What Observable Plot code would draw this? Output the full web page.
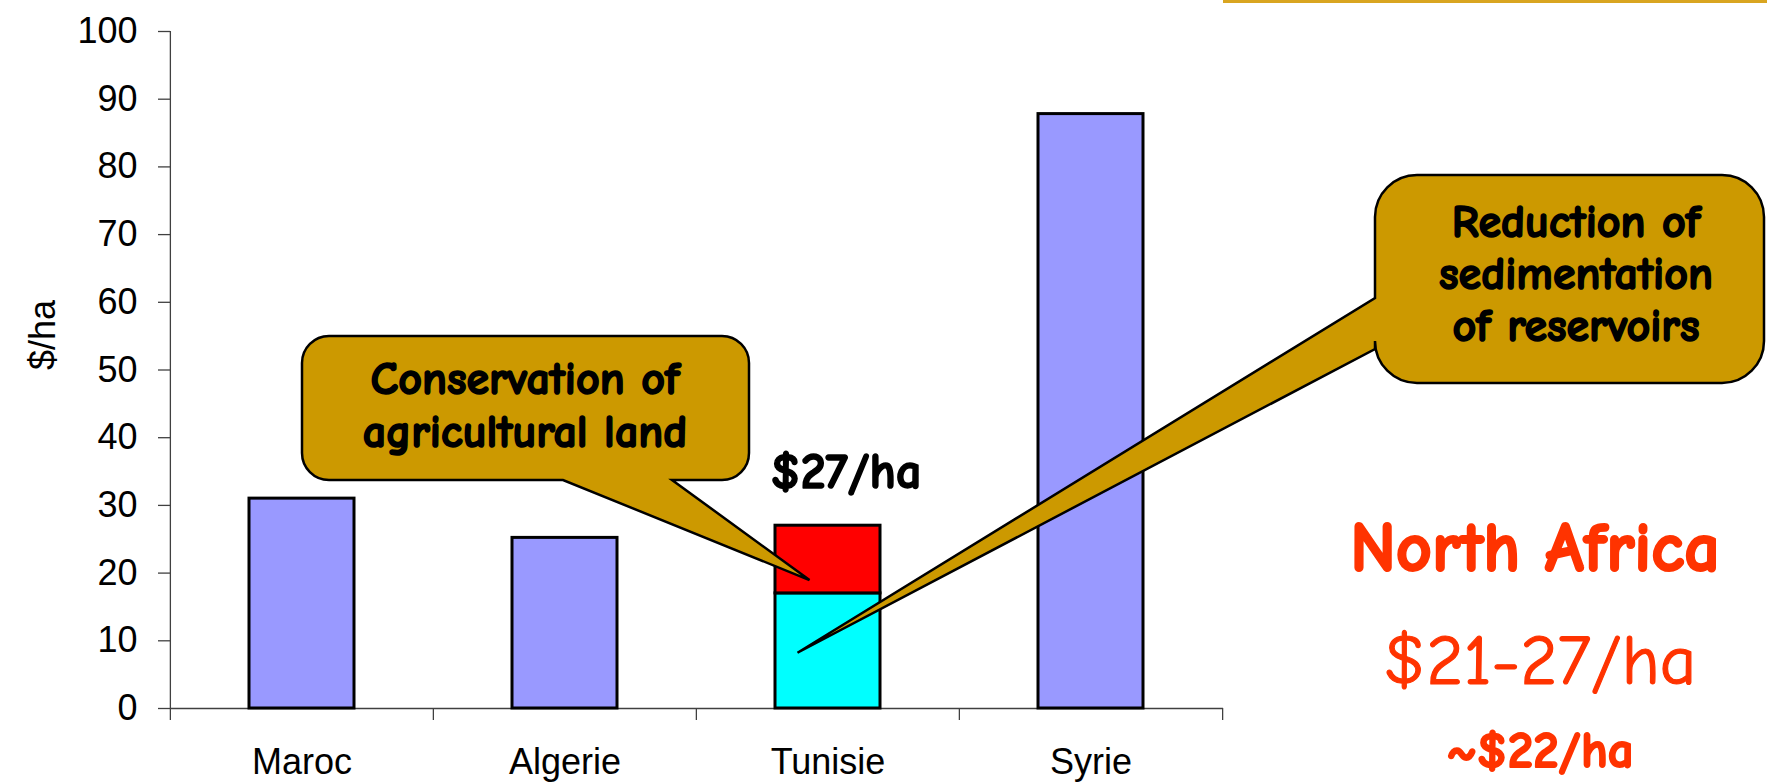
<!DOCTYPE html>
<html>
<head>
<meta charset="utf-8">
<script src="https://cdn.jsdelivr.net/npm/d3@7"></script>
<script src="https://cdn.jsdelivr.net/npm/@observablehq/plot@0.6"></script>
<style>
  html, body { margin: 0; padding: 0; background: #ffffff; }
  svg { display: block; }
</style>
</head>
<body>
<div id="chart"></div>
<script>
// Cost of soil erosion, $/ha
const countries = ["Maroc", "Algerie", "Tunisie", "Syrie"];
const totalValues = [31, 25.2, null, 87.8];          // single-figure estimates
const tunisieParts = ["Reduction of sedimentation of reservoirs", "Conservation of agricultural land"];
const tunisieValues = [17, 10];
const yTicks = [0, 10, 20, 30, 40, 50, 60, 70, 80, 90, 100];
const yLabel = "$/ha";
const callout1Lines = ["Conservation of", "agricultural land"];
const callout2Lines = ["Reduction of", "sedimentation", "of reservoirs"];
const regionName = "North Africa";
const regionRange = "$21-27/ha";
const regionAverage = "~$22/ha";

const rows = [];
countries.forEach((c, i) => {
  if (c === "Tunisie") {
    tunisieParts.forEach((p, j) => rows.push({country: c, part: p, value: tunisieValues[j]}));
  } else {
    rows.push({country: c, part: "Total", value: totalValues[i]});
  }
});
const tunisieTotal = d3.sum(tunisieValues);

const W = 1767, H = 782;
const mL = 170, mR = 544, mT = 31, mB = 74;
const step = (W - mL - mR) / countries.length;
const comic = "'Comic Sans MS', 'Comic Neue', 'DejaVu Sans Condensed', 'DejaVu Sans', sans-serif";
const axisColor = "#404040";

const chart = Plot.plot({
  width: W, height: H,
  marginLeft: mL, marginRight: mR, marginTop: mT, marginBottom: mB,
  style: {fontFamily: "'Liberation Sans', Arial, sans-serif", fontSize: "36px", background: "#ffffff", color: "#000000"},
  x: {domain: countries, paddingInner: 0.6, paddingOuter: 0.3},
  y: {domain: [0, 100]},
  color: {domain: ["Total", ...tunisieParts], range: ["#9999FF", "#00FFFF", "#FF0000"]},
  marks: [
    Plot.axisY(yTicks, {tickSize: 12, tickPadding: 21, label: null, stroke: axisColor, strokeWidth: 1.3, fontSize: 36}),
    // vertical axis line at the left edge of the first category band
    Plot.ruleX(countries.slice(0, 1), {dx: -step / 2, y1: 0, y2: 100, stroke: axisColor, strokeWidth: 1.3}),
    Plot.axisX(countries, {tickSize: 12, dx: -step / 2, tickFormat: () => "", label: null, stroke: axisColor, strokeWidth: 1.3}),
    Plot.axisX(countries.slice(-1), {tickSize: 12, dx: step / 2, tickFormat: () => "", label: null, stroke: axisColor, strokeWidth: 1.3}),
    Plot.axisX(countries, {tickSize: 0, tickPadding: 40, label: null, fontSize: 36}),
    Plot.ruleY([0], {stroke: axisColor, strokeWidth: 1.3}),
    Plot.barY(rows, {x: "country", y: "value", fill: "part", stroke: "#000000", strokeWidth: 3}),
    Plot.text([`$${tunisieTotal}/ha`], {
      x: () => "Tunisie", y: () => tunisieTotal, text: d => d,
      lineAnchor: "bottom", dy: -38, dx: 18,
      fontFamily: comic, fontWeight: "bold", fontSize: 50, fill: "#000000",
      stroke: "#000000", strokeWidth: 1.6
    }),
    Plot.text([yLabel], {frameAnchor: "left", rotate: -90, dx: -127, text: d => d, fontSize: 36, fill: "#000000"})
  ]
});

document.getElementById("chart").appendChild(chart);

// Callout balloons pointing at the two parts of the Tunisie bar
const xs = chart.scale("x"), ys = chart.scale("y");
const xc = xs.apply("Tunisie") + xs.bandwidth / 2;
const tip1 = [xc - 18, ys.apply(tunisieValues[0] + 0.19 * tunisieValues[1])];
const tip2 = [xc - 30, ys.apply(0.48 * tunisieValues[0])];

function calloutPath(x0, y0, x1, y1, r, tail) {
  const p = d3.path();
  p.moveTo(x0 + r, y0);
  p.lineTo(x1 - r, y0);
  p.arcTo(x1, y0, x1, y0 + r, r);
  p.lineTo(x1, y1 - r);
  p.arcTo(x1, y1, x1 - r, y1, r);
  if (tail.side === "bottom") {
    p.lineTo(tail.b, y1);
    p.lineTo(tail.tip[0], tail.tip[1]);
    p.lineTo(tail.a, y1);
  }
  p.lineTo(x0 + r, y1);
  p.arcTo(x0, y1, x0, y1 - r, r);
  if (tail.side === "left") {
    p.lineTo(x0, tail.b);
    p.lineTo(tail.tip[0], tail.tip[1]);
    p.lineTo(x0, tail.a);
  }
  p.lineTo(x0, y0 + r);
  p.arcTo(x0, y0, x0 + r, y0, r);
  p.closePath();
  return p.toString();
}

const svg = d3.select(chart);
const g = svg.append("g");

g.append("path")
  .attr("d", calloutPath(302, 336, 749, 480, 27, {side: "bottom", a: 563, b: 672, tip: tip1}))
  .attr("fill", "#CC9900").attr("stroke", "#000000").attr("stroke-width", 2.5).attr("stroke-linejoin", "miter");
g.append("path")
  .attr("d", calloutPath(1375, 175, 1764, 383, 42, {side: "left", a: 298, b: 349, tip: tip2}))
  .attr("fill", "#CC9900").attr("stroke", "#000000").attr("stroke-width", 2.5).attr("stroke-linejoin", "miter");

function boldText(t, x, y, size, color, weight, outline) {
  return g.append("text").text(t)
    .attr("x", x).attr("y", y)
    .attr("text-anchor", "middle")
    .attr("font-family", comic).attr("font-weight", weight).attr("font-size", size)
    .attr("fill", color).attr("stroke", color).attr("stroke-width", outline)
    .attr("stroke-linejoin", "round");
}
callout1Lines.forEach((t, i) => boldText(t, 525, 394 + i * 53, 46, "#000000", "bold", 1.6));
callout2Lines.forEach((t, i) => boldText(t, 1576, 237 + i * 52, 46, "#000000", "bold", 1.6));

// Regional summary
const red = "#FF3300";
boldText(regionName, 1535, 571, 70, red, "bold", 2.2);
boldText(regionRange, 1540, 684, 71, red, "normal", 1.2);
boldText(regionAverage, 1540, 767, 51, red, "bold", 1.8);

// Title rule across the top right
g.append("rect").attr("x", 1223).attr("y", 0).attr("width", W - 1223).attr("height", 3).attr("fill", "#D9A520");
</script>
</body>
</html>
